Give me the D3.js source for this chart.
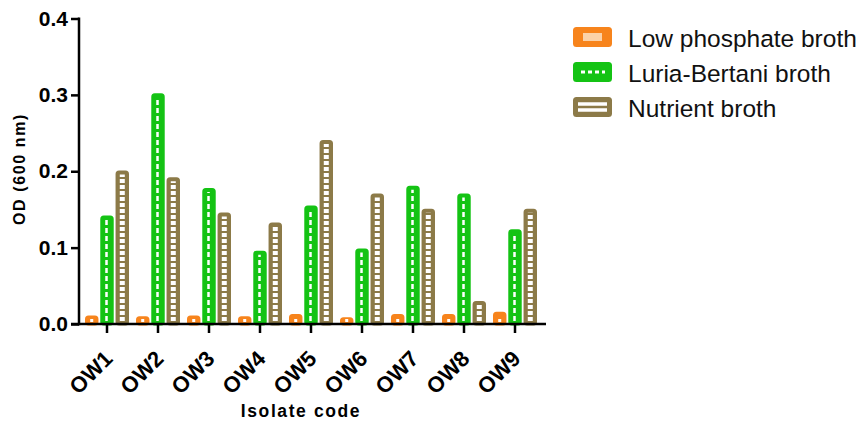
<!DOCTYPE html>
<html>
<head>
<meta charset="utf-8">
<script src="https://cdn.jsdelivr.net/npm/d3@7"></script>
<style>
  body { margin: 0; background: #fff; }
  svg { font-family: Arial, "Liberation Sans", sans-serif; }
</style>
</head>
<body>
<svg id="main-svg" width="862" height="423"></svg>
<script>
// ----- //
// data
// ----- //
const isolates = ["OW1", "OW2", "OW3", "OW4", "OW5", "OW6", "OW7", "OW8", "OW9"];
const seriesNames = ["Low phosphate broth", "Luria-Bertani broth", "Nutrient broth"];
const lowPhosphate = [0.011, 0.010, 0.011, 0.010, 0.013, 0.009, 0.013, 0.013, 0.016];
const luriaBertani = [0.142, 0.302, 0.178, 0.096, 0.155, 0.099, 0.181, 0.171, 0.124];
const nutrient = [0.201, 0.192, 0.146, 0.133, 0.241, 0.171, 0.151, 0.030, 0.151];
const yTicks = [0.0, 0.1, 0.2, 0.3, 0.4];

const colors = ["#f7841c", "#14c314", "#8c7a48"];

// ----- //
// layout
// ----- //
const svg = d3.select("#main-svg");
const x0 = 79, x1 = 546, yBase = 324;

const y = d3.scaleLinear().domain([0, 0.4]).range([yBase, 18.5]);
const x = d3.scaleBand().domain(isolates).range([81.5, 540.5]).padding(0);
const inner = d3.scaleBand().domain(seriesNames).range([-22, 22]).paddingInner(0.12);

const rows = isolates.map((d, i) => ({
    isolate: d,
    values: [lowPhosphate[i], luriaBertani[i], nutrient[i]]
}));

// ----- //
// bars
// ----- //
const sw = 3;
const groups = svg.append("g").selectAll("g")
    .data(rows)
    .enter().append("g")
    .attr("transform", d => `translate(${x(d.isolate) + x.bandwidth() / 2},0)`);

const bars = groups.selectAll("g.bar")
    .data(d => d.values.map((v, k) => ({ v: v, k: k })))
    .enter().append("g")
    .attr("class", "bar");

bars.append("rect")
    .attr("x", d => inner(seriesNames[d.k]) + sw / 2)
    .attr("y", d => y(d.v) + sw / 2)
    .attr("width", inner.bandwidth() - sw)
    .attr("height", d => Math.max(0.5, yBase - y(d.v) - sw / 2))
    .attr("rx", 2)
    .attr("fill", d => colors[d.k])
    .attr("stroke", d => colors[d.k])
    .attr("stroke-width", sw);

// green: white dashed centre line
bars.filter(d => d.k === 1).append("line")
    .attr("x1", d => inner(seriesNames[1]) + inner.bandwidth() / 2 - 0.5)
    .attr("x2", d => inner(seriesNames[1]) + inner.bandwidth() / 2 - 0.5)
    .attr("y1", yBase - 3)
    .attr("y2", d => y(d.v) + 4)
    .attr("stroke", "#fff")
    .attr("stroke-width", 2.5)
    .attr("stroke-dasharray", "5,3");

// brown: white ladder squares
bars.filter(d => d.k === 2).append("line")
    .attr("x1", d => inner(seriesNames[2]) + inner.bandwidth() / 2)
    .attr("x2", d => inner(seriesNames[2]) + inner.bandwidth() / 2)
    .attr("y1", yBase - 3)
    .attr("y2", d => y(d.v) + 4)
    .attr("stroke", "#fff")
    .attr("stroke-width", 5)
    .attr("stroke-dasharray", "4,2");

// orange: small white square
bars.filter(d => d.k === 0).append("rect")
    .attr("x", inner(seriesNames[0]) + inner.bandwidth() / 2 - 1.5)
    .attr("y", yBase - 5)
    .attr("width", 3)
    .attr("height", 3)
    .attr("fill", "#fff");

// ----- //
// axes
// ----- //
const yAxis = svg.append("g")
    .attr("transform", `translate(${x0},0)`)
    .call(d3.axisLeft(y).tickValues(yTicks).tickFormat(d3.format(".1f")).tickSize(8).tickPadding(3));
yAxis.select(".domain").remove();
yAxis.selectAll(".tick line").attr("stroke", "#000").attr("stroke-width", 2.5);
yAxis.selectAll(".tick text")
    .attr("font-size", 21).attr("font-weight", "bold").attr("fill", "#000")
    .attr("font-family", "Arial, 'Liberation Sans', sans-serif");

const xAxis = svg.append("g")
    .attr("transform", `translate(0,${yBase})`)
    .call(d3.axisBottom(x).tickSize(9).tickSizeOuter(0));
xAxis.select(".domain").remove();
xAxis.selectAll(".tick line").attr("stroke", "#000").attr("stroke-width", 2.5);
xAxis.selectAll(".tick text")
    .attr("y", 0).attr("dy", 0)
    .attr("transform", "translate(7,36) rotate(-45)")
    .attr("text-anchor", "end")
    .attr("font-size", 22).attr("font-weight", "bold").attr("fill", "#000")
    .attr("font-family", "Arial, 'Liberation Sans', sans-serif");

// axis lines
svg.append("line")
    .attr("x1", x0).attr("x2", x0).attr("y1", y(0.4) - 1).attr("y2", yBase + 1.25)
    .attr("stroke", "#000").attr("stroke-width", 2.5);
svg.append("line")
    .attr("x1", x0 - 8).attr("x2", x1).attr("y1", yBase).attr("y2", yBase)
    .attr("stroke", "#000").attr("stroke-width", 2.5);

// axis titles
svg.append("text")
    .attr("transform", `translate(25,169) rotate(-90)`)
    .attr("text-anchor", "middle")
    .attr("font-size", 16).attr("font-weight", "bold")
    .attr("letter-spacing", 1.6)
    .text("OD (600 nm)");

svg.append("text")
    .attr("x", 301).attr("y", 417)
    .attr("text-anchor", "middle")
    .attr("font-size", 17.5).attr("font-weight", "bold")
    .attr("letter-spacing", 1.6)
    .text("Isolate code");

// ----- //
// legend
// ----- //
const legend = svg.append("g").selectAll("g")
    .data(seriesNames)
    .enter().append("g")
    .attr("transform", (d, i) => `translate(573,${27 + i * 35})`);

legend.append("rect")
    .attr("x", 1.5).attr("y", 1.5)
    .attr("width", 36).attr("height", 17)
    .attr("rx", 2)
    .attr("fill", (d, i) => colors[i])
    .attr("stroke", (d, i) => colors[i])
    .attr("stroke-width", 3);

// legend patterns
legend.filter((d, i) => i === 0).append("rect")
    .attr("x", 10).attr("y", 6).attr("width", 19).attr("height", 8)
    .attr("fill", "#fbd2a8");
legend.filter((d, i) => i === 1).append("line")
    .attr("x1", 8).attr("x2", 32).attr("y1", 10).attr("y2", 10)
    .attr("stroke", "#fff").attr("stroke-width", 3).attr("stroke-dasharray", "4,3");
legend.filter((d, i) => i === 2).selectAll("line")
    .data([7, 13])
    .enter().append("line")
    .attr("x1", 5).attr("x2", 34).attr("y1", v => v).attr("y2", v => v)
    .attr("stroke", "#fff").attr("stroke-width", 3.5);

legend.append("text")
    .attr("x", 55).attr("y", 20)
    .attr("font-size", 24.5)
    .attr("fill", "#111")
    .text(d => d);
</script>
</body>
</html>
